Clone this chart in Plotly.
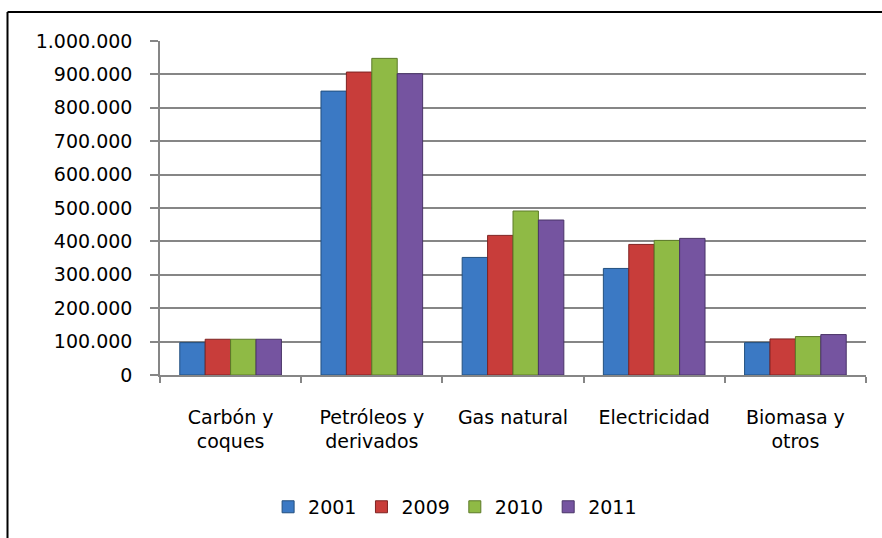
import plotly.graph_objects as go

# Energy consumption by source, selected years
categories = ["Carbón y<br>coques", "Petróleos y<br>derivados", "Gas natural", "Electricidad", "Biomasa y<br>otros"]
years = ["2001", "2009", "2010", "2011"]
values_2001 = [97000, 850000, 352000, 319000, 97000]
values_2009 = [107000, 907000, 418000, 391000, 108000]
values_2010 = [107000, 948000, 491000, 403000, 115000]
values_2011 = [107000, 902000, 464000, 409000, 121000]
y_ticks = [0, 100000, 200000, 300000, 400000, 500000, 600000, 700000, 800000, 900000, 1000000]

series = [values_2001, values_2009, values_2010, values_2011]
fills = ["#3B79C4", "#C83D3A", "#8FBA45", "#7554A0"]
edges = ["#23507f", "#7f2322", "#5c7a28", "#4a3468"]

W, H = 882, 538
L, R, T, B = 160, 16, 41, 163
pw, ph = W - L - R, H - T - B

fig = go.Figure()
for name, vals, fc, ec in zip(years, series, fills, edges):
    fig.add_trace(go.Bar(
        x=categories, y=vals, name=name,
        marker=dict(color=fc, line=dict(color=ec, width=1)),
    ))

font = "DejaVu Sans"
fig.update_layout(
    width=W, height=H,
    margin=dict(l=L, r=R, t=T, b=B),
    paper_bgcolor="white", plot_bgcolor="white",
    separators=",.",
    barmode="group", bargap=0.28, bargroupgap=0,
    font=dict(family=font, size=19, color="black"),
    showlegend=True,
    legend=dict(
        orientation="h", x=0.418, y=-0.395, xanchor="center", yanchor="middle",
        font=dict(family=font, size=19, color="black"),
        itemwidth=30, traceorder="normal",
    ),
    xaxis=dict(
        showline=True, linecolor="#868686", linewidth=1.5,
        ticks="outside", tickson="boundaries", ticklen=6, tickcolor="#868686", tickwidth=1.5,
        ticklabelstandoff=24,
        tickfont=dict(family=font, size=19, color="black"),
        showgrid=False,
    ),
    yaxis=dict(
        range=[0, 1000000], tickvals=y_ticks, tickformat=",d",
        showline=True, linecolor="#868686", linewidth=1.5,
        ticks="outside", ticklen=8, tickcolor="#868686", tickwidth=1.5,
        ticklabelstandoff=14,
        showgrid=True, gridcolor="#868686", gridwidth=1.5,
        zeroline=False,
        tickfont=dict(family=font, size=19, color="black"),
    ),
)

# Chart frame: left and top edges
x_left = (7.5 - L) / pw
y_top = (H - B - 12) / ph
fig.add_shape(type="line", xref="paper", yref="paper",
              x0=x_left, x1=(W + 10 - L) / pw, y0=y_top, y1=y_top,
              line=dict(color="black", width=2))
fig.add_shape(type="line", xref="paper", yref="paper",
              x0=x_left, x1=x_left, y0=y_top, y1=-(B + 10) / ph,
              line=dict(color="black", width=2))

fig.write_html("out.html")
